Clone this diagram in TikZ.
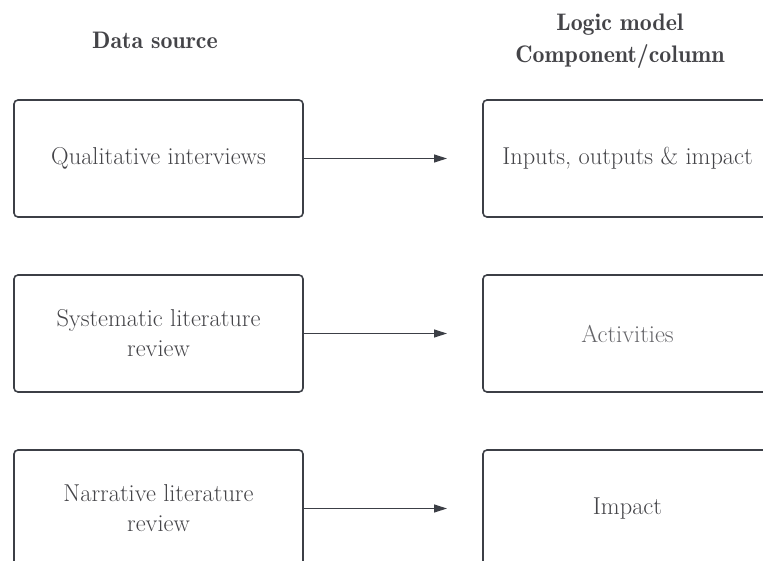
\documentclass[tikz,border=0pt]{standalone}
\usetikzlibrary{arrows.meta}
\definecolor{edge}{HTML}{3C3F46}
\definecolor{ink}{HTML}{444448}
\definecolor{softink}{HTML}{66666A}
\tikzset{
  srcbox/.style={draw=edge, line width=1.6bp, rounded corners=4bp,
    minimum width=289bp, minimum height=117bp, align=center,
    text=ink, font=\fontsize{24.5}{30}\selectfont, inner sep=0pt},
  flow/.style={draw=edge, line width=1.2bp,
    -{Triangle[length=13bp,width=8bp]}},
  heading/.style={align=center, text=ink,
    font=\fontsize{24}{32}\fontseries{b}\selectfont}
}
\begin{document}
\begin{tikzpicture}[x=1bp,y=-1bp]
  \useasboundingbox (0,0) rectangle (763,561);
  \clip (0,0) rectangle (763,561);
  % column headings
  \node[heading] (hsrc) at (155,40) {Data source};
  \node[heading] (hlogic) at (620,41) {Logic model\\Component/column};
  % data sources (left column)
  \node[srcbox] (qual) at (158.5,158.5) {Qualitative interviews};
  \node[srcbox] (slr)  at (158.5,333.5) {Systematic literature\\review};
  \node[srcbox] (nlr)  at (158.5,508.5) {Narrative literature\\review};
  % logic model components (right column)
  \node[srcbox] (iop) at (627.5,158.5) {Inputs, outputs \& impact};
  \node[srcbox, text=softink] (act) at (627.5,333.5) {Activities};
  \node[srcbox] (imp) at (627.5,508.5) {Impact};
  % arrow tips stop short of the right column
  \coordinate (tip) at (447,0);
  \draw[flow] (qual.east) -- (qual.east -| tip);
  \draw[flow] (slr.east) -- (slr.east -| tip);
  \draw[flow] (nlr.east) -- (nlr.east -| tip);
\end{tikzpicture}
\end{document}
